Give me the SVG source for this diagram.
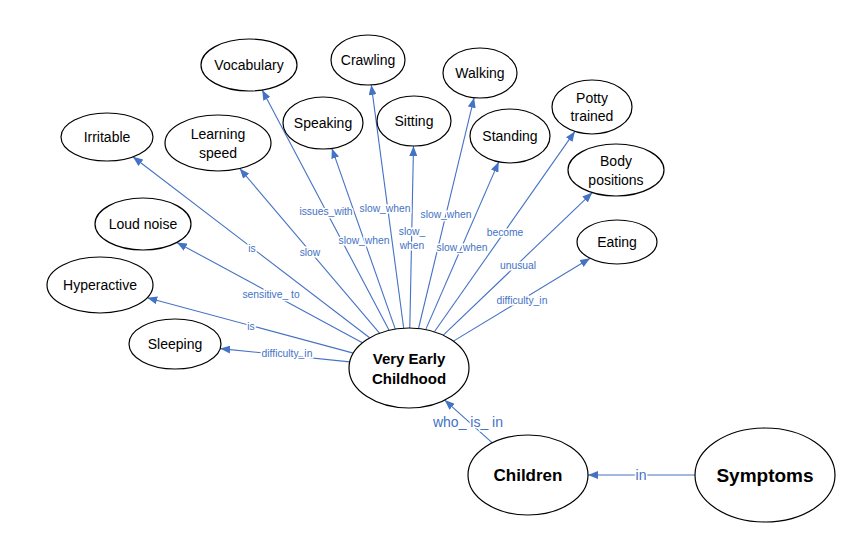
<svg xmlns="http://www.w3.org/2000/svg" width="866" height="555" viewBox="0 0 866 555">
<defs>
<marker id="arr" markerUnits="userSpaceOnUse" markerWidth="10" markerHeight="8" refX="10" refY="4" orient="auto">
<path d="M0,0 L10,4 L0,8 z" fill="#4472C4"/>
</marker>
<style>
.node ellipse{fill:#fff;stroke:#000;stroke-width:1.2}
.node text{font-family:"Liberation Sans",Arial,sans-serif;font-size:14px;fill:#000;text-anchor:middle;dominant-baseline:central}
.node text.b{font-weight:bold}
#connectors line{stroke:#4472C4;stroke-width:1.1;marker-end:url(#arr)}
#connectors text{font-family:"Liberation Sans",Arial,sans-serif;font-size:10.3px;fill:#4472C4;text-anchor:middle;dominant-baseline:central;stroke:#fff;stroke-width:3;paint-order:stroke}
#connectors text.big{font-size:14px}
</style>
</defs>
<rect width="866" height="555" fill="#fff"/>
<g id="connectors">
<line x1="349.7" y1="361.9" x2="220.2" y2="348.6"/>
<line x1="353.3" y1="353.1" x2="147.2" y2="297.7"/>
<line x1="362.4" y1="342.8" x2="176.9" y2="242.4"/>
<line x1="369.6" y1="337.8" x2="132.9" y2="156.8"/>
<line x1="379.5" y1="333.2" x2="239.7" y2="168.5"/>
<line x1="389.1" y1="330.3" x2="262.2" y2="90"/>
<line x1="395.3" y1="329.1" x2="331.9" y2="148.4"/>
<line x1="403.7" y1="328.2" x2="371.3" y2="84.9"/>
<line x1="409.8" y1="328" x2="413.5" y2="146"/>
<line x1="418.5" y1="328.5" x2="474.1" y2="97.7"/>
<line x1="425.7" y1="329.6" x2="498.7" y2="161.9"/>
<line x1="434.4" y1="331.8" x2="574.9" y2="131.4"/>
<line x1="443.3" y1="335.2" x2="592.3" y2="192.6"/>
<line x1="453.4" y1="341.1" x2="590.1" y2="258.3"/>
<line x1="492.3" y1="442.9" x2="444.7" y2="400.1"/>
<line x1="695" y1="475" x2="588" y2="475"/>
<text x="287" y="353">difficulty_in</text>
<text x="251" y="326">is</text>
<text x="271" y="294">sensitive_ to</text>
<text x="252" y="248">is</text>
<text x="310" y="252">slow</text>
<text x="326" y="211">issues_with</text>
<text x="364" y="240">slow_when</text>
<text x="385" y="208">slow_when</text>
<text x="412" y="231">slow_</text>
<text x="412" y="245">when</text>
<text x="446" y="214">slow_when</text>
<text x="462" y="247">slow_when</text>
<text x="505" y="232">become</text>
<text x="518" y="265">unusual</text>
<text x="522" y="300">difficulty_in</text>
<text class="big" x="468" y="422">who_ is_ in</text>
<text class="big" x="641" y="475">in</text>
</g>
<g id="n-vocabulary" class="node"><ellipse cx="249" cy="65" rx="48" ry="26"/><text x="249" y="65">Vocabulary</text></g>
<g id="n-crawling" class="node"><ellipse cx="368" cy="60" rx="37" ry="25"/><text x="368" y="60">Crawling</text></g>
<g id="n-walking" class="node"><ellipse cx="480" cy="73" rx="37" ry="25"/><text x="480" y="73">Walking</text></g>
<g id="n-potty" class="node"><ellipse cx="592" cy="107" rx="40" ry="27"/><text x="592" y="98">Potty</text><text x="592" y="116">trained</text></g>
<g id="n-irritable" class="node"><ellipse cx="107" cy="137" rx="46" ry="24"/><text x="107" y="137">Irritable</text></g>
<g id="n-learning" class="node"><ellipse cx="218" cy="143" rx="53" ry="28"/><text x="218" y="134">Learning</text><text x="218" y="153">speed</text></g>
<g id="n-speaking" class="node"><ellipse cx="323" cy="123" rx="40" ry="26"/><text x="323" y="123">Speaking</text></g>
<g id="n-sitting" class="node"><ellipse cx="414" cy="121" rx="37" ry="25"/><text x="414" y="121">Sitting</text></g>
<g id="n-standing" class="node"><ellipse cx="510" cy="136" rx="40" ry="27"/><text x="510" y="136">Standing</text></g>
<g id="n-body" class="node"><ellipse cx="616" cy="170" rx="48" ry="26"/><text x="616" y="161">Body</text><text x="616" y="180">positions</text></g>
<g id="n-loud" class="node"><ellipse cx="143" cy="224" rx="48" ry="26"/><text x="143" y="224">Loud noise</text></g>
<g id="n-eating" class="node"><ellipse cx="617" cy="242" rx="40" ry="22"/><text x="617" y="242">Eating</text></g>
<g id="n-hyperactive" class="node"><ellipse cx="100" cy="285" rx="53" ry="28"/><text x="100" y="285">Hyperactive</text></g>
<g id="n-sleeping" class="node"><ellipse cx="175" cy="344" rx="46" ry="25"/><text x="175" y="344">Sleeping</text></g>
<g id="n-vec" class="node"><ellipse cx="409" cy="368" rx="60" ry="40"/><text class="b" x="409" y="358" style="font-size:15px">Very Early</text><text class="b" x="409" y="378" style="font-size:15px">Childhood</text></g>
<g id="n-children" class="node"><ellipse cx="528" cy="475" rx="60" ry="40"/><text class="b" x="528" y="475" style="font-size:17px">Children</text></g>
<g id="n-symptoms" class="node"><ellipse cx="765" cy="475" rx="70" ry="47"/><text class="b" x="765" y="475" style="font-size:19px">Symptoms</text></g>
</svg>
